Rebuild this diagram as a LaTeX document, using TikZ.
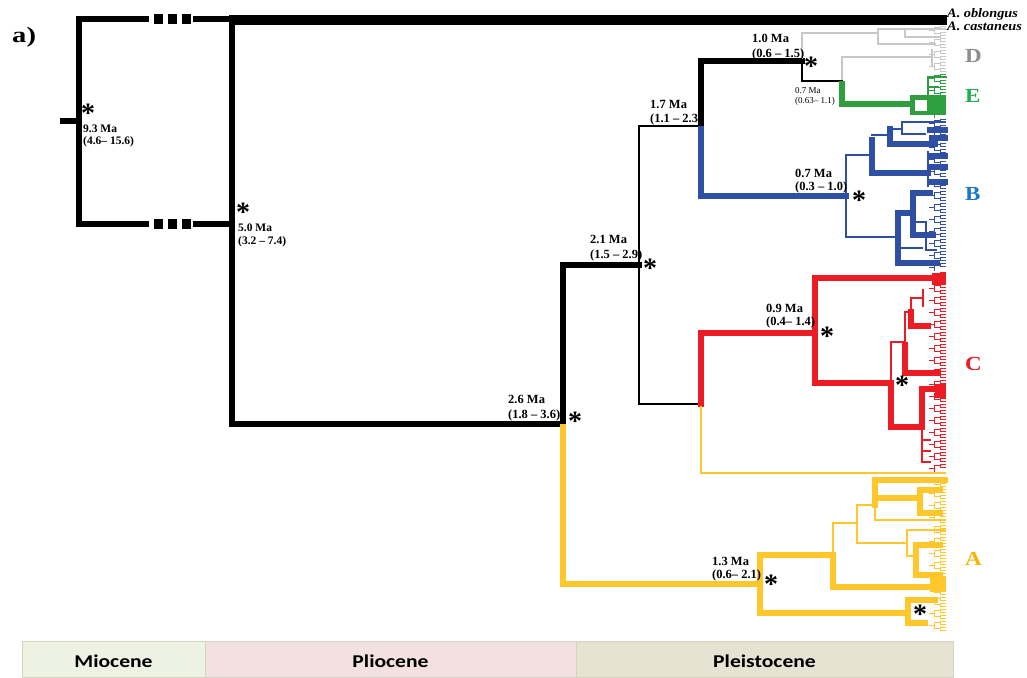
\documentclass[tikz,border=0pt]{standalone}
\usepackage{fontspec}
\setmainfont{Liberation Serif}
\newfontfamily\barfont{Carlito}
\definecolor{cD}{HTML}{C8C8C8}
\definecolor{cDl}{HTML}{8E8E8E}
\definecolor{cE}{HTML}{2E9E3E}
\definecolor{cEl}{HTML}{1DAF50}
\definecolor{cB}{HTML}{2F4FA5}
\definecolor{cBl}{HTML}{1D76C6}
\definecolor{cC}{HTML}{EC1C24}
\definecolor{cA}{HTML}{FFC72C}
\definecolor{cAl}{HTML}{F6B400}
\definecolor{bMio}{HTML}{EEF2E3}
\definecolor{bPli}{HTML}{F3E0E1}
\definecolor{bPle}{HTML}{E6E3D3}
\definecolor{bEdge}{HTML}{D6D3C2}
\newcommand\tipcomb[3]{%
 \foreach \kk in {0,...,#3}{%
  \pgfmathsetmacro\yy{#2+6*\kk}%
  \draw[tipl,#1] (946,\yy) -- (940,\yy) -- (940,\yy+3) -- (946,\yy+3);
  \draw[tipl,#1] (940,\yy+1.5) -- (934,\yy+1.5);
  \ifodd\kk\relax\else
   \draw[tipl,#1] (934,\yy+1.5) -- (934,\yy+7.5);
   \draw[tipl,#1] (934,\yy+4.5) -- (929,\yy+4.5);
  \fi
 }}
\newcommand\astx{\raisebox{-0.47em}[0.18em][0.18em]{*}}
\newcommand\astabove{\rlap{\hspace{-2pt}\raisebox{10pt}{\fontsize{28}{28}\selectfont *}}}
\tikzset{
 thk/.style={line width=5.5pt},
 med/.style={line width=2.6pt},
 thn/.style={line width=1.4pt},
 tipl/.style={line width=0.8pt},
 labR/.style={inner sep=0pt, anchor=base west, font=\bfseries\fontsize{12.5}{14}\selectfont},
 labL/.style={inner sep=0pt, anchor=base west, font=\bfseries\fontsize{11.5}{13}\selectfont},
 labS/.style={inner sep=0pt, anchor=base west, font=\fontsize{9}{10}\selectfont},
 ast/.style={inner sep=0pt, anchor=center, font=\bfseries\fontsize{28}{28}\selectfont},
 clade/.style={inner sep=0pt, anchor=base west, font=\bfseries\fontsize{20}{20}\selectfont},
 spec/.style={inner sep=0pt, anchor=base west, font=\bfseries\itshape\fontsize{13}{14}\selectfont},
 era/.style={inner sep=0pt, anchor=base, font=\barfont\bfseries\fontsize{18}{18}\selectfont},
 erabox/.style={draw=bEdge, line width=0.8pt},
}
\begin{document}
\begin{tikzpicture}[x=1pt,y=-1pt,line join=miter,line cap=rect]
\useasboundingbox (0,0) rectangle (1027,677);
\fill[white] (0,0) rectangle (1027,677);
% ---------- time scale bar
\draw[erabox, fill=bMio] (22,641) rectangle (205,677);
\draw[erabox, fill=bPli] (205,641) rectangle (576,677);
\draw[erabox, fill=bPle] (576,641) rectangle (953,677);
\node[era] (mio) at (113.5,667) {\scalebox{1.2}[1]{Miocene}};
\node[era] (pli) at (390.5,667) {\scalebox{1.2}[1]{Pliocene}};
\node[era] (ple) at (764.5,667) {\scalebox{1.2}[1]{Pleistocene}};
% ---------- black backbone
\draw[thk] (63,121) -- (79,121);
\draw[thk] (79,19) -- (79,224);
\draw[thk] (79,19) -- (146,19);
\draw[thk] (196,19) -- (232,19);
\foreach \xx in {158.5,172,186} {\fill (\xx-4.5,14) rectangle (\xx+4.5,24);}
\draw[thk] (79,224) -- (146,224);
\draw[thk] (196,224) -- (232,224);
\foreach \xx in {158.5,172,186} {\fill (\xx-4.5,219) rectangle (\xx+4.5,229);}
\draw[line width=10pt,line cap=butt] (229,20) -- (947,20);
\draw[thk] (232,19) -- (232,424) -- (563,424);
\draw[thk] (563,424) -- (563,265) -- (639,265);
\draw[med] (701,126) -- (639,126) -- (639,404) -- (701,404);
\draw[thk] (701,126) -- (701,61) -- (802,61);
\draw[med] (802,61) -- (802,81) -- (842,81);
% ---------- clade D (grey)
\draw[med,cD] (802,58) -- (802,33) -- (878,33);
\draw[med,cD] (945,29) -- (878,29) -- (878,44) -- (935,44);
\draw[thn,cD] (905,29) -- (905,37) -- (940,37);
\draw[med,cD] (842,79) -- (842,57) -- (932,57);
\draw[thn,cD] (932,50) -- (932,66);
\tipcomb{cD}{26}{7}
% ---------- clade E (green)
\draw[thk,cE] (842,84) -- (842,104) -- (912,104);
\fill[cE] (910,95) rectangle (946,115);
\fill[white] (915,100) rectangle (927,111);
\draw[thn,cE] (946,77) -- (928,77) -- (928,95);
\draw[thn,cE] (928,87) -- (938,87);
\tipcomb{cE}{74}{6}
% ---------- clade B (blue)
\draw[thk,cB] (701,129) -- (701,196) -- (846,196);
\draw[thn,cB] (872,155) -- (846,155) -- (846,237) -- (898,237);
\draw[thk,cB] (872,140) -- (872,173) -- (928,173);
\draw[thn,cB] (872,135) -- (890,135);
\draw[thk,cB] (890,129) -- (890,144) -- (935,144);
\draw[thn,cB] (890,129) -- (902,129);
\draw[thn,cB] (945,122) -- (902,122) -- (902,134) -- (925,134);
\draw[thk,cB] (930,130) -- (945,130);
\draw[thk,cB] (932,138) -- (945,138);
\draw[thn,cB] (928,152) -- (928,186);
\draw[thk,cB] (930,156) -- (945,156);
\draw[thk,cB] (932,167) -- (945,167);
\draw[thk,cB] (930,182) -- (945,182);
\draw[thk,cB] (913,213) -- (898,213) -- (898,263) -- (937,263);
\draw[thk,cB] (930,193) -- (913,193) -- (913,235) -- (933,235);
\draw[thn,cB] (913,222) -- (926,222) -- (926,250) -- (936,250);
\draw[thn,cB] (898,248) -- (922,248);
\tipcomb{cB}{119}{24}
% ---------- clade C (red)
\draw[thk,cC] (701,404) -- (701,333) -- (815,333);
\draw[thk,cC] (932,278) -- (815,278) -- (815,383) -- (891,383) -- (891,427) -- (922,427) -- (922,389) -- (940,389);
\fill[cC] (932,273) rectangle (946,285);
\fill[cC] (935,384) rectangle (946,398);
\draw[thn,cC] (891,380) -- (891,342) -- (905,342);
\draw[thk,cC] (905,345) -- (905,373) -- (938,373);
\draw[thn,cC] (905,342) -- (905,312) -- (911,312);
\draw[thk,cC] (911,312) -- (911,326) -- (928,326);
\draw[thn,cC] (911,312) -- (911,298) -- (923,298);
\draw[thn,cC] (923,290) -- (923,306);
\draw[thn,cC] (922,430) -- (922,462) -- (930,462);
\draw[thn,cC] (922,440) -- (930,440);
\draw[thn,cC] (922,451) -- (930,451);
\tipcomb{cC}{272}{32}
% ---------- clade A (yellow)
\draw[thn,cA] (701,407) -- (701,473) -- (945,473);
\draw[thk,cA] (563,427) -- (563,584) -- (760,584);
\draw[thk,cA] (833,555) -- (760,555) -- (760,613) -- (908,613);
\draw[thk,cA] (833,555) -- (833,587) -- (940,587);
\draw[thn,cA] (833,553) -- (833,523) -- (857,523);
\draw[thn,cA] (875,505) -- (857,505) -- (857,543) -- (907,543);
\draw[thk,cA] (875,505) -- (875,480) -- (945,480);
\draw[thn,cA] (875,505) -- (875,520) -- (945,520);
\draw[thk,cA] (875,498) -- (920,498);
\draw[thk,cA] (940,490) -- (920,490) -- (920,513) -- (940,513);
\draw[thn,cA] (945,530) -- (907,530) -- (907,556) -- (916,556);
\draw[thk,cA] (940,545) -- (916,545) -- (916,575) -- (940,575);
\fill[cA] (930,577) rectangle (946,592);
\draw[thk,cA] (935,600) -- (908,600) -- (908,623) -- (925,623);
\tipcomb{cA}{477}{25}
% ---------- outgroup labels
\node[spec] (obl) at (947,18) {\scalebox{1.1}[1]{A. oblongus}};
\node[spec] (cas) at (947,31) {\scalebox{1.1}[1]{A. castaneus}};
% ---------- clade letters
\node[clade, text=cDl] (D) at (965,63) {\scalebox{1.15}[1]{D}};
\node[clade, text=cEl] (E) at (965,102) {\scalebox{1.15}[1]{E}};
\node[clade, text=cBl] (B) at (965,200) {\scalebox{1.15}[1]{B}};
\node[clade, text=cC] (C) at (965,370) {\scalebox{1.15}[1]{C}};
\node[clade, text=cAl] (A) at (965,565) {\scalebox{1.15}[1]{A}};
% ---------- panel label
\node[inner sep=0pt, anchor=base west, font=\bfseries\fontsize{22}{22}\selectfont] (pa) at (12,42) {\scalebox{1.3}[1]{a)}};
% ---------- node ages (left ones carry their support asterisk)
\node[labL] (a93) at (83,132) {\astabove 9.3 Ma};
\node[labL] (b93) at (83,144) {(4.6– 15.6)};
\node[labL] (a50) at (238,231) {\astabove 5.0 Ma};
\node[labL] (b50) at (238,244) {(3.2 – 7.4)};
\node[labR] (a26) at (508,403) {2.6 Ma};
\node[labR] (b26) at (508,418) {(1.8 – 3.6)};
\node[labR] (a21) at (590,243) {2.1 Ma};
\node[labR] (b21) at (590,258) {(1.5 – 2.9)};
\node[labR] (a17) at (650,108) {1.7 Ma};
\node[labR] (b17) at (650,122) {(1.1 – 2.3)};
\node[labR] (a10) at (752,43) {1.0 Ma};
\node[labR] (b10) at (752,57) {(0.6 – 1.5)};
\node[labS] (a07e) at (795,93) {0.7 Ma};
\node[labS] (b07e) at (795,103) {(0.63– 1.1)};
\node[labR] (a07b) at (795,177) {0.7 Ma};
\node[labR] (b07b) at (795,190) {(0.3 – 1.0)};
\node[labR] (a09) at (766,312) {0.9 Ma};
\node[labR] (b09) at (766,325) {(0.4– 1.4)};
\node[labR] (a13) at (712,565) {1.3 Ma};
\node[labR] (b13) at (712,578) {(0.6– 2.1)};
% ---------- support asterisks
\node[ast] (s3) at (575,417) {\astx};
\node[ast] (s4) at (650,264) {\astx};
\node[ast] (s5) at (811,62) {\astx};
\node[ast] (s6) at (859,196) {\astx};
\node[ast] (s7) at (827,332) {\astx};
\node[ast] (s8) at (902,381) {\astx};
\node[ast] (s9) at (771,580) {\astx};
\node[ast] (s10) at (920,610) {\astx};
\end{tikzpicture}
\end{document}
